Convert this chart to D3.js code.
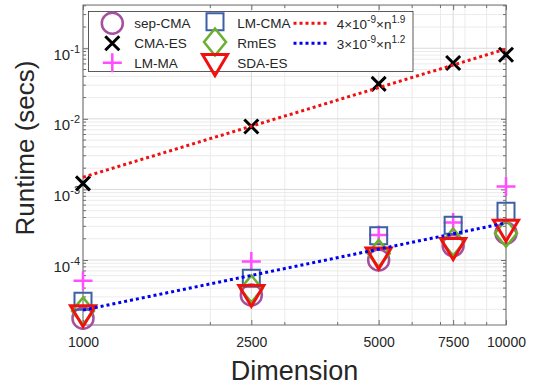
<!DOCTYPE html>
<html><head><meta charset="utf-8">
<script src="https://cdn.jsdelivr.net/npm/d3@7"></script>
<style>
html,body{margin:0;padding:0;background:#fff;}
svg{display:block;font-family:"Liberation Sans",Arial,sans-serif;}
</style></head><body>
<svg id="chart" width="533" height="388"></svg>
<script>
// ---- data ----
const dims   = [1000, 2500, 5000, 7500, 10000];
const sepCMA = [1.5e-5, 3.2e-5, 1.0e-4, 1.6e-4, 2.4e-4];
const cmaES  = [1.22e-3, 7.8e-3, 0.0313, 0.0617, 0.081];
const lmMA   = [5.1e-5, 9.5e-5, 2.26e-4, 3.4e-4, 1.1e-3];
const lmCMA  = [2.6e-5, 5.5e-5, 2.2e-4, 3.1e-4, 4.9e-4];
const rmES   = [1.9e-5, 3.9e-5, 1.24e-4, 1.8e-4, 2.4e-4];
const sdaES  = [1.6e-5, 3.1e-5, 1.05e-4, 1.43e-4, 2.6e-4];
const fitDims = [1000, 10000];
const fitHigh = [1.49e-3, 0.0975];
const fitLow  = [1.95e-5, 3.35e-4];
const xTicks = [1000, 2500, 5000, 7500, 10000];
const xMinor = [2000, 3000, 4000, 5000, 6000, 7000, 8000, 9000];
const yTicks = [1e-4, 1e-3, 1e-2, 1e-1];
const yTickExp = ["-4", "-3", "-2", "-1"];
const seriesNames = ["sep-CMA", "CMA-ES", "LM-MA", "LM-CMA", "RmES", "SDA-ES"];
const fitLabels = [["4\u00d710", "-9", "\u00d7n", "1.9"], ["3\u00d710", "-9", "\u00d7n", "1.2"]];
const xTitle = "Dimension";
const yTitle = "Runtime (secs)";

// ---- layout ----
const L = 83, R = 506, T = 5, B = 325;
const svg = d3.select("#chart");
const x = d3.scaleLog().domain([1000, 10000]).range([L, R]);
const y = d3.scaleLog().domain([1.2e-5, 0.41]).range([B, T]);

const yMinor = [];
for (let e = -5; e <= -1; e++) for (let k = 2; k <= 9; k++) {
  const v = k * Math.pow(10, e);
  if (v > y.domain()[0] && v < y.domain()[1]) yMinor.push(v);
}

// grid
const grid = svg.append("g");
grid.selectAll(".xm").data(xMinor).enter().append("line")
  .attr("x1", d => x(d)).attr("x2", d => x(d)).attr("y1", T).attr("y2", B)
  .attr("stroke", "#ebebeb").attr("stroke-width", 1);
grid.selectAll(".ym").data(yMinor).enter().append("line")
  .attr("y1", d => y(d)).attr("y2", d => y(d)).attr("x1", L).attr("x2", R)
  .attr("stroke", "#ebebeb").attr("stroke-width", 1);
grid.selectAll(".xM").data(xTicks).enter().append("line")
  .attr("x1", d => x(d)).attr("x2", d => x(d)).attr("y1", T).attr("y2", B)
  .attr("stroke", "#dadada").attr("stroke-width", 1);
grid.selectAll(".yM").data(yTicks).enter().append("line")
  .attr("y1", d => y(d)).attr("y2", d => y(d)).attr("x1", L).attr("x2", R)
  .attr("stroke", "#dadada").attr("stroke-width", 1);

const axCol = "#6e6e6e", txtCol = "#262626";

// axes
const xAx = svg.append("g").attr("transform", `translate(0,${B})`)
  .call(d3.axisBottom(x).tickValues(xTicks).tickFormat(d3.format("d"))
    .tickSizeInner(-5).tickSizeOuter(0).tickPadding(12));
const xAxTop = svg.append("g").attr("transform", `translate(0,${T})`)
  .call(d3.axisTop(x).tickValues(xTicks).tickFormat("").tickSizeInner(-5).tickSizeOuter(0));
const yAx = svg.append("g").attr("transform", `translate(${L},0)`)
  .call(d3.axisLeft(y).tickValues(yTicks).tickFormat("").tickSizeInner(-5).tickSizeOuter(0).tickPadding(3));
const yAxR = svg.append("g").attr("transform", `translate(${R},0)`)
  .call(d3.axisRight(y).tickValues(yTicks).tickFormat("").tickSizeInner(-5).tickSizeOuter(0));
[xAx, xAxTop, yAx, yAxR].forEach(g => {
  g.select(".domain").remove();
  g.selectAll(".tick line").attr("stroke", axCol);
});
xAx.selectAll(".tick text").attr("font-size", 14).attr("fill", txtCol)
  .attr("font-family", '"Liberation Sans",Arial,sans-serif');
yAx.selectAll(".tick text").each(function(d, i) {
  const t = d3.select(this);
  t.text(null).attr("dy", null).attr("y", 11).attr("fill", txtCol)
    .attr("font-family", '"Liberation Sans",Arial,sans-serif');
  t.append("tspan").attr("font-size", 15).text("10");
  t.append("tspan").attr("font-size", 11).attr("dy", -7).text(yTickExp[yTicks.indexOf(d)]);
});

// minor ticks
const mt = svg.append("g").attr("stroke", axCol);
xMinor.filter(v => xTicks.indexOf(v) < 0).forEach(v => {
  mt.append("line").attr("x1", x(v)).attr("x2", x(v)).attr("y1", B).attr("y2", B - 3);
  mt.append("line").attr("x1", x(v)).attr("x2", x(v)).attr("y1", T).attr("y2", T + 3);
});
yMinor.forEach(v => {
  mt.append("line").attr("y1", y(v)).attr("y2", y(v)).attr("x1", L).attr("x2", L + 3);
  mt.append("line").attr("y1", y(v)).attr("y2", y(v)).attr("x1", R).attr("x2", R - 3);
});

// box
svg.append("rect").attr("x", L).attr("y", T).attr("width", R - L).attr("height", B - T)
  .attr("fill", "none").attr("stroke", axCol).attr("stroke-width", 1);

// markers
const styles = {
  circle:  {col: "#a5509f", sw: 2.5},
  cross:   {col: "#000000", sw: 3},
  plus:    {col: "#ff4dff", sw: 2.5},
  square:  {col: "#3d5fa3", sw: 2},
  diamond: {col: "#6ab02e", sw: 2.5},
  tri:     {col: "#f01010", sw: 3}
};
function markerPath(type) {
  switch (type) {
    case "circle": return d3.path().toString();
    case "cross": return "M-7,-7L7,7M-7,7L7,-7";
    case "plus": return "M-9.5,0L9.5,0M0,-9.5L0,9.5";
    case "square": return "M-8.5,-8.5H8.5V8.5H-8.5Z";
    case "diamond": return "M0,-13.5L11,0L0,13.5L-11,0Z";
    case "tri": return "M-12.5,-10.5L12.5,-10.5L0,10.5Z";
  }
}
function drawMarker(g, type, cx, cy) {
  const s = styles[type];
  if (type === "circle") {
    g.append("circle").attr("cx", cx).attr("cy", cy).attr("r", 10.5)
      .attr("fill", "none").attr("stroke", s.col).attr("stroke-width", s.sw);
  } else {
    g.append("path").attr("d", markerPath(type)).attr("transform", `translate(${cx},${cy})`)
      .attr("fill", "none").attr("stroke", s.col).attr("stroke-width", s.sw)
      .attr("stroke-linejoin", "miter");
  }
}
const series = [
  {vals: sepCMA, type: "circle"},
  {vals: cmaES, type: "cross"},
  {vals: lmMA, type: "plus"},
  {vals: lmCMA, type: "square"},
  {vals: rmES, type: "diamond"},
  {vals: sdaES, type: "tri"}
];
const mk = svg.append("g");
series.forEach(s => s.vals.forEach((v, i) => drawMarker(mk, s.type, x(dims[i]), y(v))));

// fit lines
const line = d3.line().x((d, i) => x(fitDims[i])).y(d => y(d));
svg.append("path").datum(fitHigh).attr("d", line).attr("fill", "none")
  .attr("stroke", "#ee1111").attr("stroke-width", 3).attr("stroke-dasharray", "3,3");
svg.append("path").datum(fitLow).attr("d", line).attr("fill", "none")
  .attr("stroke", "#0000f0").attr("stroke-width", 3).attr("stroke-dasharray", "3,3");

// legend
const lg = svg.append("g");
lg.append("rect").attr("x", 88.5).attr("y", 11.5).attr("width", 324.5).attr("height", 60)
  .attr("fill", "#fff").attr("stroke", "#333").attr("stroke-width", 0.8);
const rows = [23.3, 43.3, 62.7];
const col1 = {mx: 112.3, tx: 134.3}, col2 = {mx: 215, tx: 237.3};
series.forEach((s, i) => {
  const c = i < 3 ? col1 : col2;
  const r = rows[i % 3];
  let my = r;
  if (s.type === "square") my = 21.7;
  if (s.type === "diamond") my = 42;
  if (s.type === "tri") my = 65;
  drawMarker(lg, s.type, c.mx, my);
  lg.append("text").attr("x", c.tx).attr("y", r + 5).attr("font-size", 13.5)
    .attr("fill", txtCol).text(seriesNames[i]);
});
[["#ee1111", "#0000f0"]].forEach(cols => {
  cols.forEach((c, i) => {
    lg.append("line").attr("x1", 293.5).attr("x2", 328.5).attr("y1", rows[i]).attr("y2", rows[i])
      .attr("stroke", c).attr("stroke-width", 3).attr("stroke-dasharray", "3,3");
    const t = lg.append("text").attr("x", 336.7).attr("y", rows[i] + 6).attr("fill", txtCol);
    const parts = fitLabels[i];
    t.append("tspan").attr("font-size", 13.5).text(parts[0]);
    t.append("tspan").attr("font-size", 10).attr("dy", -6).text(parts[1]);
    t.append("tspan").attr("font-size", 13.5).attr("dy", 6).text(parts[2]);
    t.append("tspan").attr("font-size", 10).attr("dy", -6).text(parts[3]);
  });
});

// titles
svg.append("text").attr("x", (L + R) / 2).attr("y", 380).attr("text-anchor", "middle")
  .attr("font-size", 27).attr("fill", txtCol).text(xTitle);
svg.append("text").attr("transform", "translate(34,148) rotate(-90)").attr("text-anchor", "middle")
  .attr("font-size", 26).attr("fill", txtCol).text(yTitle);
</script>
</body></html>
